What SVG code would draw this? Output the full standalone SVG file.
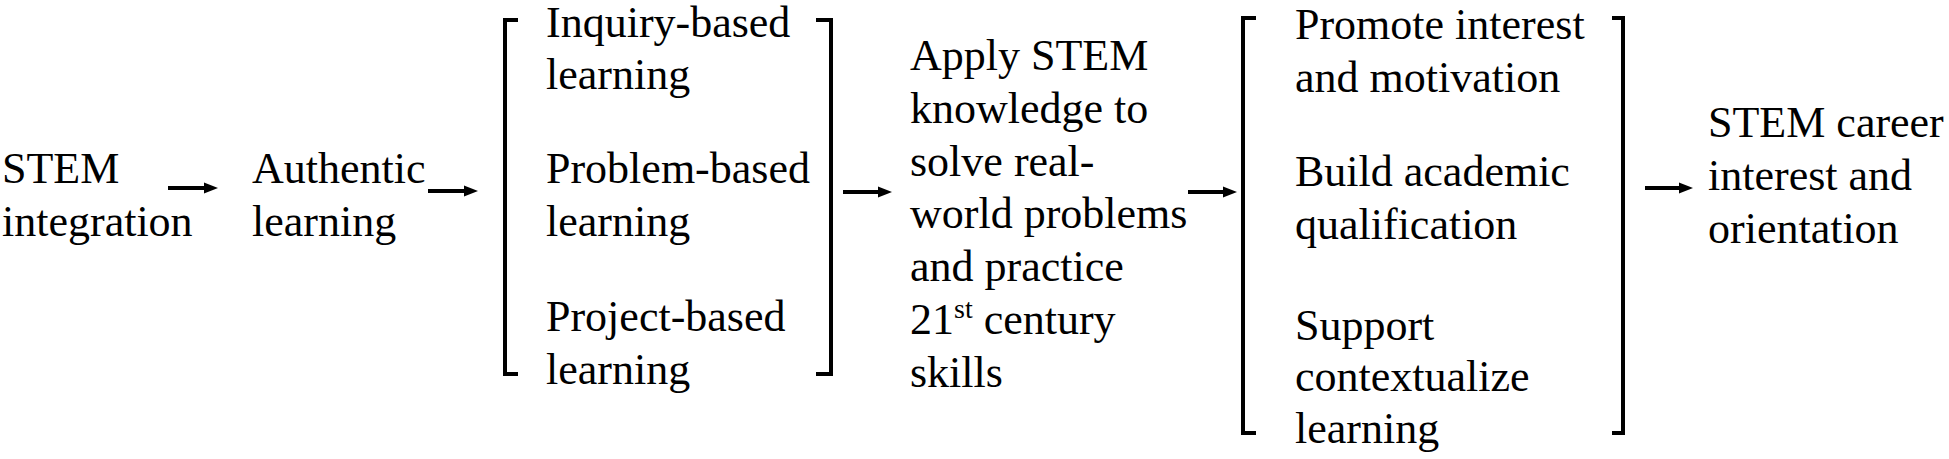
<svg xmlns="http://www.w3.org/2000/svg" width="1949" height="459" viewBox="0 0 1949 459" font-family="'Liberation Serif', 'Times New Roman', 'DejaVu Serif', serif" font-size="44">
<style>
text{font-family:'Liberation Serif','Times New Roman','DejaVu Serif',serif;font-size:44px;fill:#000}
.br{fill:none;stroke:#000;stroke-width:4}
.ar{stroke:#000;stroke-width:4;fill:none}
</style>
<defs>
<marker id="ah" markerUnits="userSpaceOnUse" markerWidth="14" markerHeight="12" viewBox="0 0 14 12" refX="3" refY="6" orient="auto">
<path d="M0,0.5 L14,6 L0,11.5 z" fill="#000"/>
</marker>
</defs>
<rect width="1949" height="459" fill="#fff"/>
<g id="n1"><text x="2" y="183">STEM</text><text x="2" y="236">integration</text></g>
<g id="n2"><text x="252" y="183">Authentic</text><text x="252" y="236">learning</text></g>
<g id="n3">
<path class="br" d="M518,20 H505 V374 H518"/>
<path class="br" d="M816,20 H831 V374 H816"/>
<text x="546" y="37">Inquiry-based</text><text x="546" y="89">learning</text>
<text x="546" y="183">Problem-based</text><text x="546" y="236">learning</text>
<text x="546" y="331">Project-based</text><text x="546" y="384">learning</text>
</g>
<g id="n4">
<text x="910" y="70">Apply STEM</text>
<text x="910" y="123">knowledge to</text>
<text x="910" y="176">solve real-</text>
<text x="910" y="228">world problems</text>
<text x="910" y="281">and practice</text>
<text x="910" y="334">21<tspan font-size="28" dy="-16">st</tspan><tspan dy="16"> century</tspan></text>
<text x="910" y="387">skills</text>
</g>
<g id="n5">
<path class="br" d="M1256,18 H1243 V433 H1256"/>
<path class="br" d="M1612,18 H1623 V433 H1612"/>
<text x="1295" y="39">Promote interest</text><text x="1295" y="92">and motivation</text>
<text x="1295" y="186">Build academic</text><text x="1295" y="239">qualification</text>
<text x="1295" y="340">Support</text><text x="1295" y="391">contextualize</text><text x="1295" y="443">learning</text>
</g>
<g id="n6"><text x="1708" y="137">STEM career</text><text x="1708" y="190">interest and</text><text x="1708" y="243">orientation</text></g>
<g id="connectors">
<line class="ar" x1="168" y1="188" x2="207" y2="188" marker-end="url(#ah)"/>
<line class="ar" x1="428" y1="191" x2="467" y2="191" marker-end="url(#ah)"/>
<line class="ar" x1="843" y1="192" x2="881" y2="192" marker-end="url(#ah)"/>
<line class="ar" x1="1188" y1="192" x2="1226" y2="192" marker-end="url(#ah)"/>
<line class="ar" x1="1645" y1="188" x2="1682" y2="188" marker-end="url(#ah)"/>
</g>
</svg>
